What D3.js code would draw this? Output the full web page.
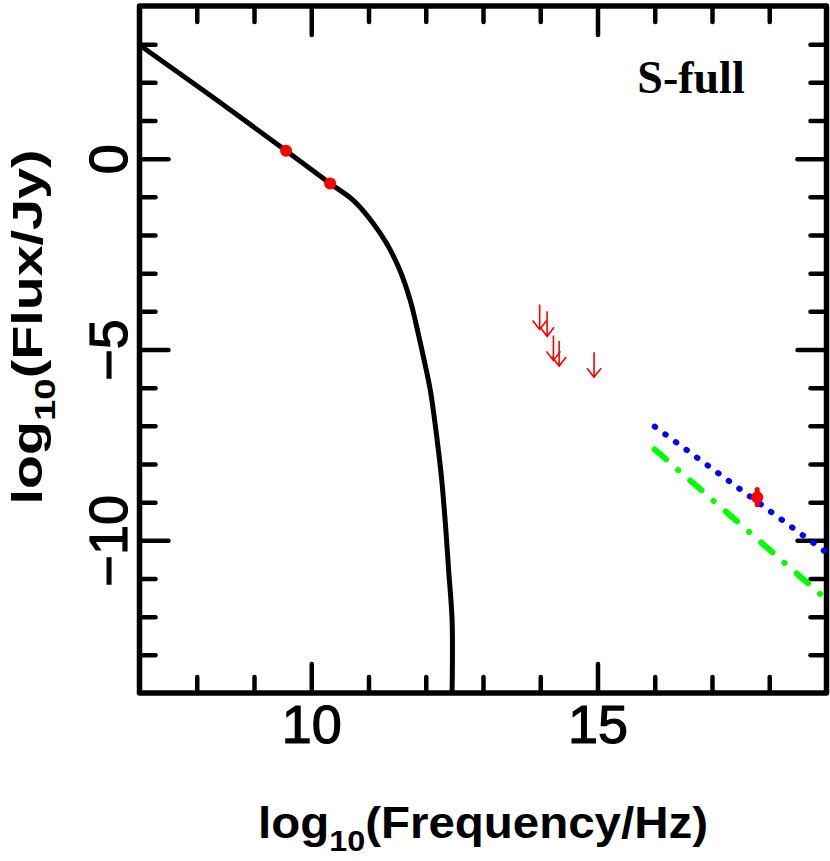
<!DOCTYPE html>
<html>
<head>
<meta charset="utf-8">
<script src="https://cdn.jsdelivr.net/npm/d3@7"></script>
<style>
  body { margin: 0; background: #fff; }
  svg { display: block; }
</style>
</head>
<body>
<svg id="sed" width="830" height="861"></svg>
<script>
// synchrotron model curve
var curveX = [7, 8.41, 9.56, 10.33, 10.74, 11.09, 11.32, 11.55, 11.73, 11.87, 11.96, 12.08, 12.2, 12.28, 12.36, 12.4, 12.46, 12.46];
var curveY = [2.98, 1.47, 0.21, -0.65, -1.10, -1.71, -2.23, -2.93, -3.72, -4.59, -5.20, -6.07, -7.38, -8.43, -9.91, -10.79, -12.09, -14];

// radio detections
var radioX = [9.56, 10.33];
var radioY = [0.21, -0.65];

// IR / optical upper limits
var limitX = [13.99, 14.12, 14.23, 14.33, 14.94];
var limitY = [-3.82, -4.0, -4.63, -4.78, -5.07];

// X-ray point
var xrayX = [17.79];
var xrayY = [-8.87];
var xrayErr = [0.2];

// X-ray power laws
var blueX = [16.0, 19];
var blueY = [-7.02, -10.32];
var greenX = [16.0, 19];
var greenY = [-7.62, -11.55];

var xMajor = [10, 15];
var xMinor = [8, 9, 11, 12, 13, 14, 16, 17, 18];
var yMajor = [0, -5, -10];
var yMinor = [3, 2, 1, -1, -2, -3, -4, -6, -7, -8, -9, -11, -12, -13];

var plotL = 139.5, plotR = 826.5, plotT = 6, plotB = 693;

var svg = d3.select("#sed");

var x = d3.scaleLinear().domain([7, 19]).range([plotL, plotR]);
var y = d3.scaleLinear().domain([-14, 4]).range([plotB, plotT]);

// ticks on all four sides, pointing inward
function styleTicks(g) {
  g.select(".domain").remove();
  g.selectAll(".tick line")
    .attr("stroke", "#000")
    .attr("stroke-width", 4.5)
    .attr("stroke-linecap", "round");
}

svg.append("g").attr("transform", "translate(0," + plotB + ")")
  .call(d3.axisBottom(x).tickValues(xMinor).tickSize(-16).tickFormat(""))
  .call(styleTicks);
svg.append("g").attr("transform", "translate(0," + plotT + ")")
  .call(d3.axisTop(x).tickValues(xMinor).tickSize(-16).tickFormat(""))
  .call(styleTicks);
svg.append("g").attr("transform", "translate(0," + plotT + ")")
  .call(d3.axisTop(x).tickValues(xMajor).tickSize(-29).tickFormat(""))
  .call(styleTicks);
svg.append("g").attr("transform", "translate(" + plotL + ",0)")
  .call(d3.axisLeft(y).tickValues(yMinor).tickSize(-16).tickFormat(""))
  .call(styleTicks);
svg.append("g").attr("transform", "translate(" + plotR + ",0)")
  .call(d3.axisRight(y).tickValues(yMinor).tickSize(-16).tickFormat(""))
  .call(styleTicks);
svg.append("g").attr("transform", "translate(" + plotR + ",0)")
  .call(d3.axisRight(y).tickValues(yMajor).tickSize(-29).tickFormat(""))
  .call(styleTicks);

var xAxis = svg.append("g").attr("transform", "translate(0," + plotB + ")")
  .call(d3.axisBottom(x).tickValues(xMajor).tickSize(-29).tickPadding(12))
  .call(styleTicks);
xAxis.selectAll(".tick text")
  .attr("fill", "#000")
  .attr("stroke", "#000")
  .attr("stroke-width", 1.2)
  .style("font-family", "'Liberation Sans', Arial, sans-serif")
  .style("font-size", "54px");

var yAxis = svg.append("g").attr("transform", "translate(" + plotL + ",0)")
  .call(d3.axisLeft(y).tickValues(yMajor).tickSize(-29))
  .call(styleTicks);
yAxis.selectAll(".tick text")
  .attr("fill", "#000")
  .attr("stroke", "#000")
  .attr("stroke-width", 1.2)
  .attr("transform", "rotate(-90)")
  .attr("x", 0)
  .attr("y", -13)
  .attr("dy", 0)
  .attr("text-anchor", "middle")
  .style("font-family", "'Liberation Sans', Arial, sans-serif")
  .style("font-size", "54px");

// frame
svg.append("rect")
  .attr("x", plotL).attr("y", plotT)
  .attr("width", plotR - plotL).attr("height", plotB - plotT)
  .attr("fill", "none")
  .attr("stroke", "#000")
  .attr("stroke-width", 5.5)
  .attr("stroke-linejoin", "round");

// model curve
var curveData = curveX.map(function(d, i) { return [d, curveY[i]]; });
var line = d3.line()
  .x(function(d) { return x(d[0]); })
  .y(function(d) { return y(d[1]); })
  .curve(d3.curveCatmullRom.alpha(0.5));

svg.append("path")
  .datum(curveData)
  .attr("d", line)
  .attr("fill", "none")
  .attr("stroke", "#000")
  .attr("stroke-width", 5);

// power laws
var straight = d3.line().x(function(d) { return x(d[0]); }).y(function(d) { return y(d[1]); });

svg.append("path")
  .datum(blueX.map(function(d, i) { return [d, blueY[i]]; }))
  .attr("d", straight)
  .attr("fill", "none")
  .attr("stroke", "#0000ff")
  .attr("stroke-width", 6)
  .attr("stroke-linecap", "round")
  .attr("stroke-dasharray", "0.5,12.6");

svg.append("path")
  .datum(greenX.map(function(d, i) { return [d, greenY[i]]; }))
  .attr("d", straight)
  .attr("fill", "none")
  .attr("stroke", "#00ff00")
  .attr("stroke-width", 6)
  .attr("stroke-linecap", "round")
  .attr("stroke-dasharray", "15,16,0.1,16");

// radio points
svg.selectAll(".radio")
  .data(radioX)
  .enter()
  .append("circle")
    .attr("class", "radio")
    .attr("cx", function(d) { return x(d); })
    .attr("cy", function(d, i) { return y(radioY[i]); })
    .attr("r", 6)
    .attr("fill", "#ff0000");

// upper limit arrows
var arrowLen = 25;
var limits = svg.selectAll(".limit")
  .data(limitX)
  .enter()
  .append("g")
    .attr("class", "limit")
    .attr("transform", function(d, i) { return "translate(" + x(d) + "," + y(limitY[i]) + ")"; });

limits.append("path")
  .attr("d", "M0,0V" + arrowLen + "M-7," + (arrowLen - 9) + "L0," + arrowLen + "L7," + (arrowLen - 9))
  .attr("fill", "none")
  .attr("stroke", "#ff0000")
  .attr("stroke-width", 1.6);

// X-ray point with error bar
svg.selectAll(".xerr")
  .data(xrayX)
  .enter()
  .append("line")
    .attr("class", "xerr")
    .attr("x1", function(d) { return x(d); })
    .attr("x2", function(d) { return x(d); })
    .attr("y1", function(d, i) { return y(xrayY[i] + xrayErr[i]); })
    .attr("y2", function(d, i) { return y(xrayY[i] - xrayErr[i]); })
    .attr("stroke", "#ff0000")
    .attr("stroke-width", 5)
    .attr("stroke-linecap", "round");

svg.selectAll(".xray")
  .data(xrayX)
  .enter()
  .append("circle")
    .attr("class", "xray")
    .attr("cx", function(d) { return x(d); })
    .attr("cy", function(d, i) { return y(xrayY[i]); })
    .attr("r", 6)
    .attr("fill", "#ff0000");

// labels
svg.append("text")
  .attr("x", 691)
  .attr("y", 93)
  .attr("text-anchor", "middle")
  .style("font-family", "'Liberation Serif', 'Times New Roman', serif")
  .style("font-weight", "bold")
  .style("font-size", "46px")
  .text("S-full");

var xt = svg.append("text")
  .attr("x", (plotL + plotR) / 2)
  .attr("y", 838)
  .attr("text-anchor", "middle")
  .attr("textLength", 450)
  .attr("lengthAdjust", "spacingAndGlyphs")
  .style("font-family", "'Liberation Sans', Arial, sans-serif")
  .style("font-weight", "bold")
  .style("font-size", "44px");
xt.append("tspan").text("log");
xt.append("tspan").attr("dy", 13).style("font-size", "30px").text("10");
xt.append("tspan").attr("dy", -13).text("(Frequency/Hz)");

var yt = svg.append("text")
  .attr("transform", "translate(42,327) rotate(-90)")
  .attr("text-anchor", "middle")
  .attr("textLength", 355)
  .attr("lengthAdjust", "spacingAndGlyphs")
  .style("font-family", "'Liberation Sans', Arial, sans-serif")
  .style("font-weight", "bold")
  .style("font-size", "42px");
yt.append("tspan").text("log");
yt.append("tspan").attr("dy", 13).style("font-size", "29px").text("10");
yt.append("tspan").attr("dy", -13).text("(Flux/Jy)");
</script>
</body>
</html>
